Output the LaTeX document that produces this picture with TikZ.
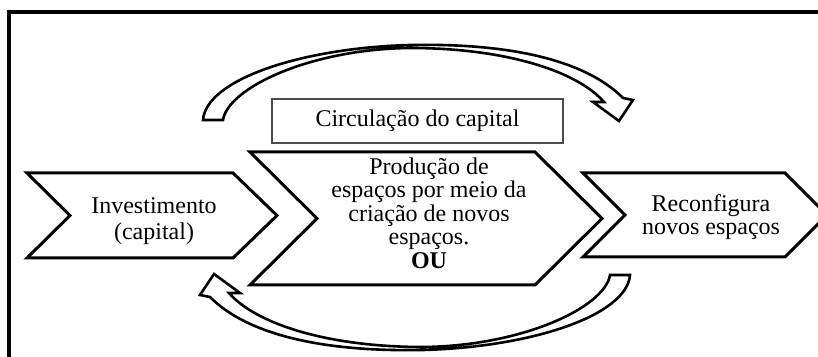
\documentclass[tikz,border=0pt]{standalone}
\usepackage{fontspec}
\setmainfont{Liberation Serif}
\begin{document}
\begin{tikzpicture}[x=0.5pt,y=-0.5pt,line join=miter]
  \tikzset{
    stage/.style={draw,line width=1.5pt,fill=white},
    stagetext/.style={align=center,font=\fontsize{12}{11.8}\selectfont,inner sep=0pt},
    bentarrow/.style={draw,line width=1.3pt,fill=white},
  }
  \clip (0,0) rectangle (818,357);
  \draw[line width=1.6pt] (9,12) rectangle (840,380);

  % stages
  \draw[stage] (27,173) -- (233,173) -- (277,215.5) -- (233,258) -- (27,258) -- (70,215.5) -- cycle;
  \draw[stage] (250,152) -- (535,152) -- (602,218.5) -- (535,285) -- (250,285) -- (317,218.5) -- cycle;
  \draw[stage] (583,173) -- (785,173) -- (827,215) -- (785,257) -- (583,257) -- (625,215) -- cycle;

  % circulation arrows
  \foreach \a in {0,180}
    \draw[bentarrow,rotate around={\a:(416.5,197.5)}] (203,120) .. controls (206,80) and (300,48) .. (410,45)
      .. controls (510,43) and (585,60) .. (623,98) -- (633,100) -- (619,121) -- (593,102) -- (604,102)
      .. controls (577,71) and (505,48) .. (410,48) .. controls (310,49) and (228,88) .. (223,120) -- cycle;

  \node[stagetext,draw=gray!60!black,line width=0.7pt,minimum width=145.5pt,minimum height=22pt] (circ) at (417.5,121) {Circulação do capital};
  \node[stagetext] (invest) at (154,221) {Investimento\\[1pt](capital)};
  \node[stagetext] (producao) at (429,213) {Produção de\\espaços por meio da\\criação de novos\\espaços.\\\textbf{OU}};
  \node[stagetext] (reconf) at (711,217) {Reconfigura\\novos espaços};
\end{tikzpicture}
\end{document}
